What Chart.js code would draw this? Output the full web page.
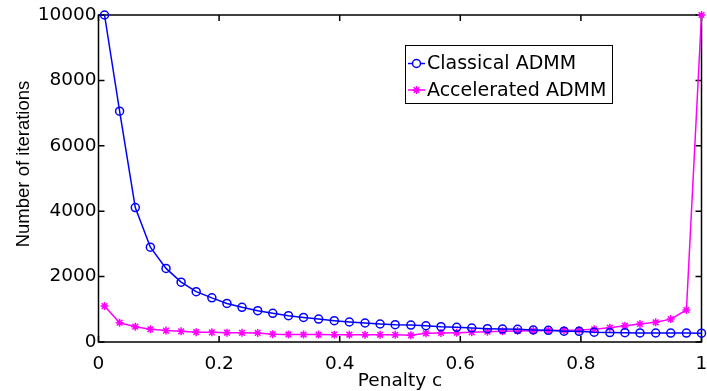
<!DOCTYPE html>
<html>
<head>
<meta charset="utf-8">
<script src="https://cdn.jsdelivr.net/npm/chart.js@4/dist/chart.umd.min.js"></script>
<style>
  html, body { margin: 0; padding: 0; background: #ffffff; }
  #wrap { width: 707px; height: 391px; }
</style>
</head>
<body>
<div id="wrap"><canvas id="cv" width="707" height="391"></canvas></div>
<script>
// Penalty parameter c (x values)
const penalty = [0.010, 0.035, 0.061, 0.086, 0.112, 0.137, 0.162, 0.188, 0.213, 0.238,
                 0.264, 0.289, 0.315, 0.340, 0.365, 0.391, 0.416, 0.442, 0.467, 0.492,
                 0.518, 0.543, 0.568, 0.594, 0.619, 0.645, 0.670, 0.695, 0.721, 0.746,
                 0.772, 0.797, 0.822, 0.848, 0.873, 0.898, 0.924, 0.949, 0.975, 1.000];

// Iteration counts for each method
const classicalIters = [10000, 7060, 4110, 2900, 2250, 1830, 1540, 1350, 1180, 1060,
                        957, 877, 805, 752, 702, 651, 612, 581, 550, 529,
                        518, 497, 468, 450, 428, 408, 397, 388, 367, 357,
                        330, 325, 300, 288, 284, 278, 275, 273, 272, 270];
const acceleratedIters = [1100, 590, 468, 390, 348, 325, 300, 295, 285, 282,
                          278, 240, 230, 228, 226, 225, 224, 222, 220, 218,
                          205, 266, 275, 284, 297, 315, 327, 336, 346, 352,
                          356, 366, 390, 437, 498, 550, 602, 700, 979, 10000];

const seriesNames = ['Classical ADMM', 'Accelerated ADMM'];

// Axis ticks
const xTicks = [0, 0.2, 0.4, 0.6, 0.8, 1];
const xTickLabels = ['0', '0.2', '0.4', '0.6', '0.8', '1'];
const yTicks = [0, 2000, 4000, 6000, 8000, 10000];
const yTickLabels = ['0', '2000', '4000', '6000', '8000', '10000'];

const xTitle = 'Penalty c';
const yTitle = 'Number of iterations';

const TICK_FONT = '18.5px "DejaVu Sans"';

function toPoints(xs, ys) {
  return xs.map((x, i) => ({ x: x, y: ys[i] }));
}

// Box frame with inward tick marks on all four sides
const frame = {
  id: 'frame',
  beforeDatasetsDraw(chart) {
    const { ctx, chartArea: a, scales } = chart;
    ctx.save();
    ctx.strokeStyle = '#000';
    ctx.lineWidth = 1.5;
    ctx.strokeRect(a.left, a.top, a.right - a.left, a.bottom - a.top);
    const len = 6;
    ctx.beginPath();
    xTicks.forEach(v => {
      const px = scales.x.getPixelForValue(v);
      ctx.moveTo(px, a.bottom); ctx.lineTo(px, a.bottom - len);
      ctx.moveTo(px, a.top); ctx.lineTo(px, a.top + len);
    });
    yTicks.forEach(v => {
      const py = scales.y.getPixelForValue(v);
      ctx.moveTo(a.left, py); ctx.lineTo(a.left + len, py);
      ctx.moveTo(a.right, py); ctx.lineTo(a.right - len, py);
    });
    ctx.stroke();
    ctx.restore();
  },
  afterDraw(chart) {
    const { ctx, chartArea: a } = chart;
    ctx.save();
    ctx.fillStyle = '#000';
    // axis titles
    ctx.font = TICK_FONT;
    ctx.textAlign = 'center';
    ctx.textBaseline = 'alphabetic';
    ctx.fillText(xTitle, (a.left + a.right) / 2, 386);
    ctx.translate(24, 164);
    ctx.rotate(-Math.PI / 2);
    ctx.font = '18.5px "Liberation Sans"';
    ctx.textBaseline = 'middle';
    ctx.fillText(yTitle, 0, 0);
    ctx.restore();

    // legend box
    ctx.save();
    const bx = 405, by = 45, bw = 207, bh = 58;
    ctx.fillStyle = '#fff';
    ctx.fillRect(bx, by, bw, bh);
    ctx.strokeStyle = '#000';
    ctx.lineWidth = 1;
    ctx.strokeRect(bx + 0.5, by + 0.5, bw, bh);
    chart.data.datasets.forEach((ds, i) => {
      const cy = 63.5 + i * 26.5;
      ctx.strokeStyle = ds.borderColor;
      ctx.lineWidth = 1.5;
      ctx.beginPath();
      ctx.moveTo(408, cy); ctx.lineTo(425, cy);
      ctx.stroke();
      Chart.helpers.drawPoint(ctx, {
        pointStyle: ds.pointStyle, radius: ds.pointRadius,
        borderWidth: ds.pointBorderWidth, rotation: 0
      }, 416.5, cy);
      ctx.fillStyle = '#000';
      ctx.font = '19px "DejaVu Sans"';
      ctx.textAlign = 'left';
      ctx.textBaseline = 'middle';
      ctx.fillText(ds.label, 427, cy + 1);
    });
    ctx.restore();
  }
};

new Chart(document.getElementById('cv'), {
  type: 'line',
  data: {
    datasets: [
      {
        label: seriesNames[0],
        data: toPoints(penalty, classicalIters),
        borderColor: '#0000ff',
        backgroundColor: 'rgba(0,0,0,0)',
        borderWidth: 1.5,
        pointStyle: 'circle',
        pointRadius: 4,
        pointBorderWidth: 1.5,
        pointBorderColor: '#0000ff',
        pointBackgroundColor: 'rgba(0,0,0,0)',
        tension: 0,
        clip: false
      },
      {
        label: seriesNames[1],
        data: toPoints(penalty, acceleratedIters),
        borderColor: '#ff00ff',
        backgroundColor: 'rgba(0,0,0,0)',
        borderWidth: 1.5,
        pointStyle: 'star',
        pointRadius: 4,
        pointBorderWidth: 1.5,
        pointBorderColor: '#ff00ff',
        pointBackgroundColor: '#ff00ff',
        tension: 0,
        clip: false
      }
    ]
  },
  options: {
    responsive: false,
    animation: false,
    devicePixelRatio: 1,
    layout: { padding: { top: 15, right: 5.5, left: 0, bottom: 0 } },
    plugins: {
      legend: { display: false },
      tooltip: { enabled: false }
    },
    scales: {
      x: {
        type: 'linear',
        min: 0, max: 1,
        grid: { display: false, drawTicks: false },
        border: { display: false },
        afterBuildTicks: s => { s.ticks = xTicks.map(v => ({ value: v })); },
        afterFit: s => { s.height = 49; s.paddingLeft = 0; s.paddingRight = 0; },
        ticks: {
          color: '#000',
          font: { family: 'DejaVu Sans', size: 18.5 },
          padding: 11,
          maxRotation: 0,
          autoSkip: false,
          callback: (v) => xTickLabels[xTicks.indexOf(v)]
        }
      },
      y: {
        type: 'linear',
        min: 0, max: 10000,
        grid: { display: false, drawTicks: false },
        border: { display: false },
        afterBuildTicks: s => { s.ticks = yTicks.map(v => ({ value: v })); },
        afterFit: s => { s.width = 98.5; s.paddingTop = 0; s.paddingBottom = 0; },
        ticks: {
          color: '#000',
          font: { family: 'DejaVu Sans', size: 18.5 },
          padding: 2,
          autoSkip: false,
          callback: (v) => yTickLabels[yTicks.indexOf(v)]
        }
      }
    }
  },
  plugins: [frame]
});
</script>
</body>
</html>
